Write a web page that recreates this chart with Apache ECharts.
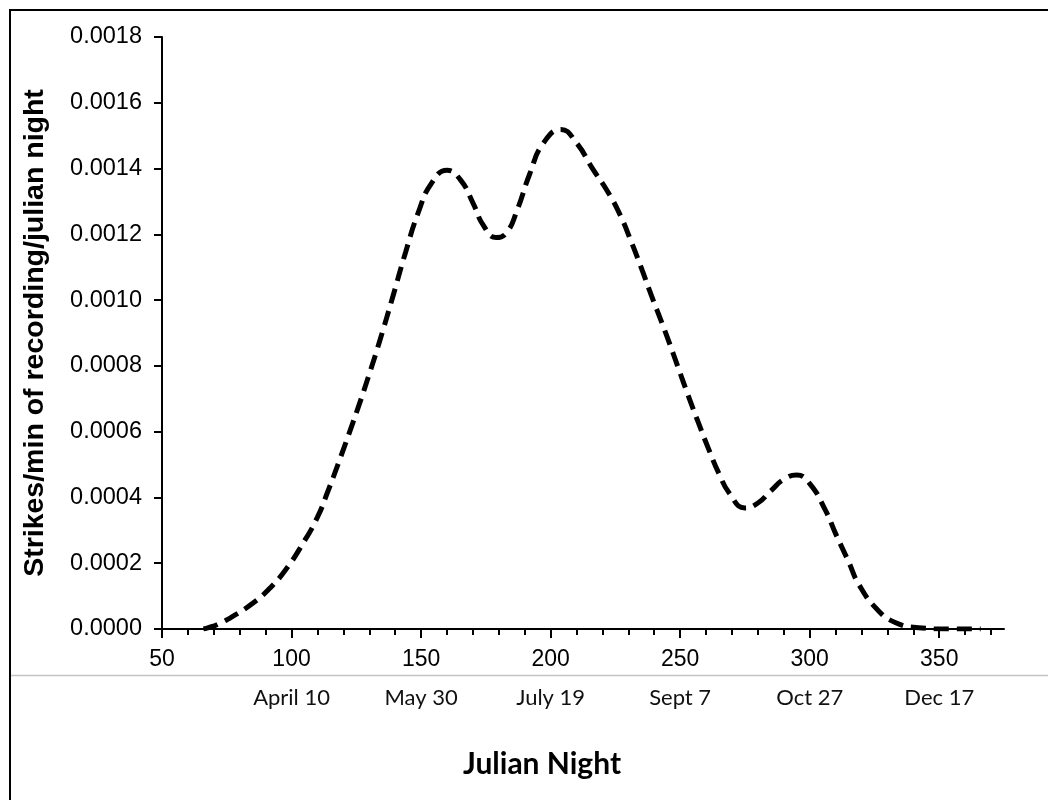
<!DOCTYPE html>
<html>
<head>
<meta charset="utf-8">
<title>Strikes per minute of recording by Julian night</title>
<script src="https://cdn.jsdelivr.net/npm/echarts@6/dist/echarts.min.js"></script>
<style>
  html, body { margin: 0; padding: 0; background: #fff; }
  #chart { width: 1048px; height: 800px; }
</style>
</head>
<body>
<div id="chart"></div>
<script>
// Julian night (day of year) and the smoothed strike rate for that night
const julianNight = [66, 68, 72, 77, 85, 92, 98, 104, 110, 114, 118, 122, 126, 130, 134, 139, 144, 149, 154, 160,
  165, 170, 174, 179, 183, 187, 192, 197, 204, 210, 216, 222, 227, 231, 235, 239, 243, 246, 249, 253,
  257, 261, 265, 269, 275, 280, 285, 290, 295, 300, 306, 310, 315, 319, 326, 333, 342, 353, 366];
const strikesPerMin = [0, 0.000004, 0.000016, 0.000037, 0.000078, 0.000127, 0.000183, 0.000255, 0.000340, 0.000418,
  0.000502, 0.000590, 0.000680, 0.000775, 0.000875, 0.001008, 0.001145, 0.001268, 0.001355, 0.001395,
  0.001368, 0.001296, 0.001228, 0.001190, 0.001205, 0.001272, 0.001385, 0.001475, 0.001519, 0.001478,
  0.001402, 0.001330, 0.001256, 0.001180, 0.001098, 0.001012, 0.000930, 0.000866, 0.000800, 0.000712,
  0.000628, 0.000547, 0.000472, 0.000413, 0.000368, 0.000383, 0.000420, 0.000455, 0.000468, 0.000442,
  0.000362, 0.000290, 0.000205, 0.000135, 0.000060, 0.000020, 0.000004, 0, 0];

// Axis ticks
const majorTicks = [50, 100, 150, 200, 250, 300, 350];
const minorTicks = [60, 70, 80, 90, 110, 120, 130, 140, 160, 170, 180, 190, 210, 220, 230, 240,
  260, 270, 280, 290, 310, 320, 330, 340, 360, 370];
// Calendar dates matching the Julian nights below the axis
const dateTicks = [100, 150, 200, 250, 300, 350];
const dateLabels = ['April 10', 'May 30', 'July 19', 'Sept 7', 'Oct 27', 'Dec 17'];

const seriesData = julianNight.map((x, i) => [x, strikesPerMin[i]]);

const chart = echarts.init(document.getElementById('chart'), null, { renderer: 'canvas' });

const baseX = { type: 'value', min: 50, max: 375, interval: 50, gridIndex: 0, position: 'bottom', splitLine: { show: false } };

chart.setOption({
  animation: false,
  backgroundColor: '#ffffff',
  grid: { left: 162, right: 44, top: 37, bottom: 171, containLabel: false },
  xAxis: [
    Object.assign({}, baseX, {
      axisLine: { show: true, onZero: false, lineStyle: { color: '#000', width: 2 } },
      axisTick: { show: true, inside: false, length: 9, customValues: majorTicks, lineStyle: { color: '#000', width: 2 } },
      axisLabel: { show: true, margin: 19, customValues: majorTicks, color: '#000', fontFamily: 'Liberation Sans, Arial, sans-serif', fontSize: 23 }
    }),
    Object.assign({}, baseX, {
      axisLine: { show: false, onZero: false },
      axisTick: { show: true, inside: false, length: 6, customValues: minorTicks, lineStyle: { color: '#000', width: 2 } },
      axisLabel: { show: false }
    }),
    Object.assign({}, baseX, {
      axisLine: { show: false, onZero: false },
      axisTick: { show: false },
      axisLabel: {
        show: true, margin: 58, customValues: dateTicks, color: '#111',
        fontFamily: 'Lato, "Open Sans", sans-serif', fontSize: 22,
        formatter: v => dateLabels[dateTicks.indexOf(v)] || ''
      },
      name: 'Julian Night',
      nameLocation: 'middle',
      nameGap: 120,
      nameTextStyle: { color: '#000', fontFamily: 'Lato, "Open Sans", sans-serif', fontWeight: 'bold', fontSize: 30, padding: [0, 82, 0, 0] }
    })
  ],
  yAxis: {
    type: 'value', min: 0, max: 0.0018, interval: 0.0002,
    axisLine: { show: true, lineStyle: { color: '#000', width: 2 } },
    axisTick: { show: true, inside: false, length: 8, lineStyle: { color: '#000', width: 2 } },
    axisLabel: { margin: 20, color: '#000', fontFamily: 'Liberation Sans, Arial, sans-serif', fontSize: 23.5, formatter: v => v.toFixed(4) },
    splitLine: { show: false },
    name: 'Strikes/min of recording/julian night',
    nameLocation: 'middle',
    nameGap: 112,
    nameTextStyle: { color: '#000', fontFamily: 'Liberation Sans, Arial, sans-serif', fontWeight: 'bold', fontSize: 28.5 }
  },
  series: [{
    type: 'line',
    xAxisIndex: 0,
    data: seriesData,
    smooth: 0.5,
    showSymbol: false,
    symbol: 'none',
    lineStyle: { color: '#000', width: 5, type: [15, 8], cap: 'butt' },
    z: 5
  }],
  graphic: [
    { type: 'rect', silent: true, shape: { x: 10, y: 10, width: 1100, height: 900 }, style: { fill: 'none', stroke: '#000', lineWidth: 2 } },
    { type: 'line', silent: true, shape: { x1: 11, y1: 675.5, x2: 1048, y2: 675.5 }, style: { stroke: '#c4c4c4', lineWidth: 1.5 } }
  ]
});
</script>
</body>
</html>
